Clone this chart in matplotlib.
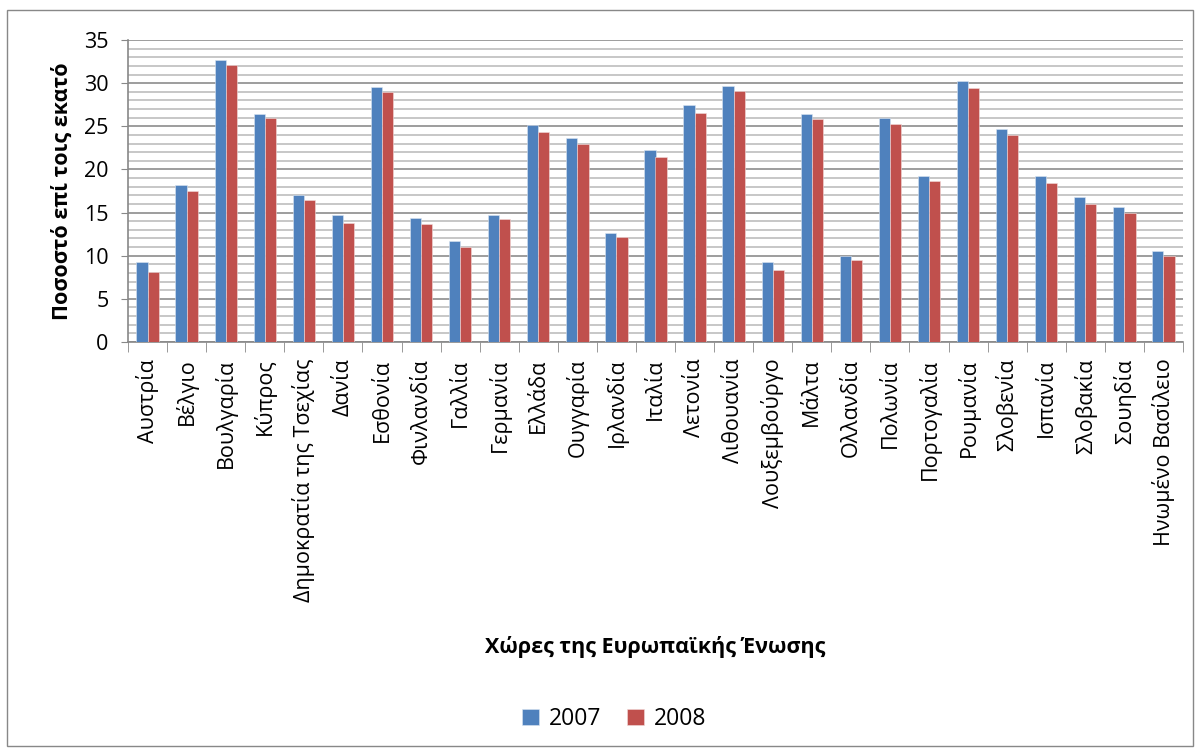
import matplotlib
matplotlib.use("Agg")
import matplotlib.pyplot as plt
from matplotlib.patches import Rectangle
import numpy as np

countries = ["Αυστρία", "Βέλγιο", "Βουλγαρία", "Κύπρος", "Δημοκρατία της Τσεχίας",
             "Δανία", "Εσθονία", "Φινλανδία", "Γαλλία", "Γερμανία", "Ελλάδα",
             "Ουγγαρία", "Ιρλανδία", "Ιταλία", "Λετονία", "Λιθουανία",
             "Λουξεμβούργο", "Μάλτα", "Ολλανδία", "Πολωνία", "Πορτογαλία",
             "Ρουμανία", "Σλοβενία", "Ισπανία", "Σλοβακία", "Σουηδία",
             "Ηνωμένο Βασίλειο"]
values_2007 = [9.3, 18.2, 32.7, 26.4, 17.0, 14.7, 29.5, 14.4, 11.7, 14.7, 25.1,
               23.6, 12.6, 22.3, 27.5, 29.7, 9.3, 26.4, 10.0, 26.0, 19.2,
               30.2, 24.7, 19.2, 16.8, 15.6, 10.5]
values_2008 = [8.1, 17.5, 32.1, 26.0, 16.5, 13.8, 29.0, 13.7, 11.0, 14.2, 24.3,
               23.0, 12.2, 21.4, 26.5, 29.1, 8.4, 25.8, 9.5, 25.3, 18.7,
               29.4, 24.0, 18.4, 16.0, 14.9, 10.0]
series_labels = ["2007", "2008"]
colors = ["#4F81BD", "#C0504D"]

plt.rcParams['font.family'] = ['Open Sans', 'DejaVu Sans']

fig = plt.figure(figsize=(12, 7.53), dpi=100)
ax = fig.add_axes([128 / 1200, 1 - 342 / 753, (1183 - 128) / 1200, (342 - 40) / 753])

# chart border
fig.patches.append(Rectangle((7 / 1200, 1 - 746 / 753), 1186 / 1200, 736 / 753,
                             transform=fig.transFigure, fill=False,
                             edgecolor="#888888", linewidth=1.0))

n = len(countries)
x = np.arange(n)
w = 1 / 3.5
ax.bar(x - w / 2, values_2007, width=w, color=colors[0], label=series_labels[0],
       edgecolor="#dbe5f1", linewidth=0.4, zorder=3)
ax.bar(x + w / 2, values_2008, width=w, color=colors[1], label=series_labels[1],
       edgecolor="#f2dcdb", linewidth=0.4, zorder=3)

ax.set_xlim(-0.5, n - 0.5)
ax.set_ylim(0, 35)
ax.set_yticks(np.arange(0, 36, 5))
ax.set_yticks(np.arange(0, 36, 1), minor=True)
ax.grid(axis="y", which="major", color="#8c8c8c", linewidth=1.2, zorder=0)
ax.grid(axis="y", which="minor", color="#bdbdbd", linewidth=1.2, zorder=0)
ax.tick_params(axis="y", which="minor", length=0)
ax.tick_params(axis="y", which="major", length=5, color="#888888", labelsize=15.5, pad=9)

ax.set_xticks(x)
ax.set_xticklabels(countries, rotation=90, fontsize=15.5)
ax.tick_params(axis="x", which="major", length=0, pad=12)
ax.set_xticks(np.arange(-0.5, n, 1), minor=True)
ax.tick_params(axis="x", which="minor", length=7, color="#888888", direction="out")

for side in ["top", "right"]:
    ax.spines[side].set_visible(False)
for side in ["left", "bottom"]:
    ax.spines[side].set_color("#888888")
    ax.spines[side].set_linewidth(1.2)

ax.set_ylabel("Ποσοστό επί τοις εκατό", fontsize=15.5, fontweight="bold", labelpad=8)
fig.text(655 / 1200, 1 - 647 / 753, "Χώρες της Ευρωπαϊκής Ένωσης",
         ha="center", va="center", fontsize=15.5, fontweight="bold")

fig.legend(loc="center", bbox_to_anchor=(614 / 1200, 1 - 719 / 753), ncol=2,
           frameon=False, fontsize=16.5, handlelength=0.75, handleheight=0.75,
           columnspacing=1.1, handletextpad=0.45)

fig.savefig("out.png", dpi=100)
